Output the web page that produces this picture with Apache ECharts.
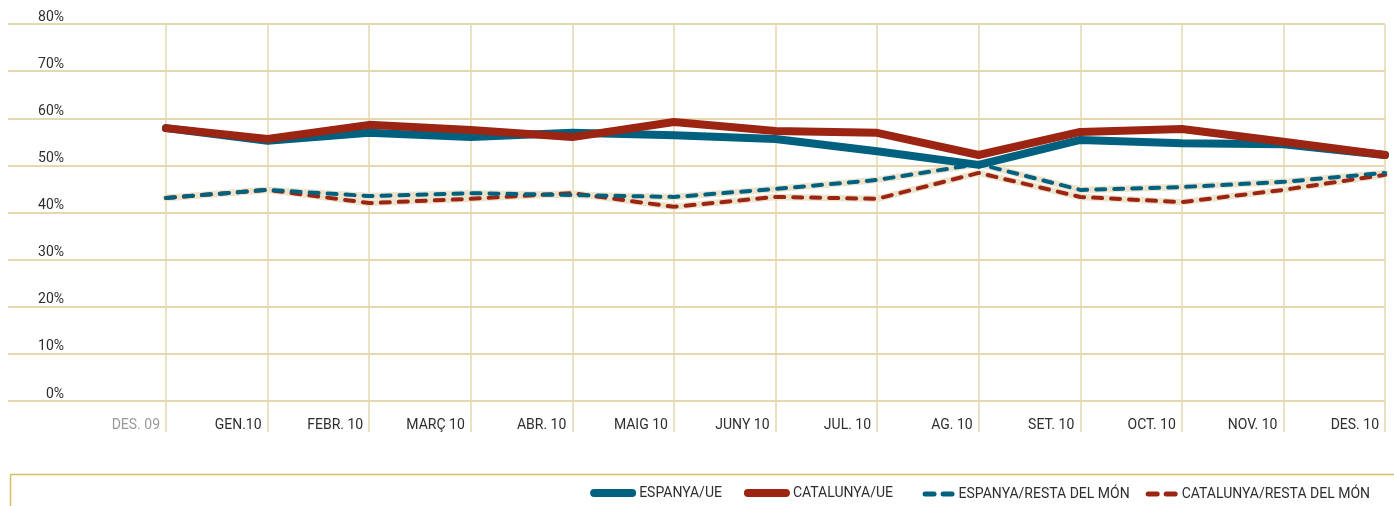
<!DOCTYPE html>
<html>
<head>
<meta charset="utf-8">
<script src="https://cdn.jsdelivr.net/npm/echarts@6/dist/echarts.min.js"></script>
<style>
html,body{margin:0;padding:0;background:#fff;}
#chart{width:1394px;height:506px;}
</style>
</head>
<body>
<div id="chart"></div>
<script>
const categories = ['DES. 09','GEN.10','FEBR. 10','MARÇ 10','ABR. 10','MAIG 10','JUNY 10','JUL. 10','AG. 10','SET. 10','OCT. 10','NOV. 10','DES. 10'];
const espanyaUE = [57.9, 55.2, 56.9, 56.0, 56.9, 56.4, 55.6, 53.0, 50.1, 55.4, 54.7, 54.5, 52.2];
const catalunyaUE = [57.9, 55.6, 58.6, 57.5, 56.0, 59.2, 57.3, 56.9, 52.2, 57.1, 57.7, 55.0, 52.2];
const espanyaRM = [43.1, 44.8, 43.5, 44.1, 43.7, 43.3, 45.0, 46.9, 50.3, 44.8, 45.4, 46.5, 48.4];
const catalunyaRM = [43.1, 44.8, 42.0, 42.9, 44.1, 41.2, 43.3, 42.9, 48.4, 43.3, 42.2, 44.8, 48.0];
const seriesNames = ['ESPANYA/UE','CATALUNYA/UE','ESPANYA/RESTA DEL MÓN','CATALUNYA/RESTA DEL MÓN'];

const BLUE = '#00607f';
const RED = '#9c2412';
const CREAM = '#ebe3cc';
const HGRID = '#dccb95';
const VGRID = '#e4d8b0';
const FONT = 'Roboto, "Liberation Sans", sans-serif';

const chart = echarts.init(document.getElementById('chart'), null, {renderer: 'canvas'});

function dashed(name, data, color) {
  return [{
    name: name + '_bg', type: 'line', xAxisIndex: 1, yAxisIndex: 1, data: data,
    symbol: 'none', silent: true, z: 2,
    lineStyle: {color: CREAM, width: 6.5, cap: 'round', join: 'round'},
    itemStyle: {color: CREAM}
  }, {
    name: name, type: 'line', xAxisIndex: 1, yAxisIndex: 1, data: data,
    symbol: 'none', z: 3, color: color,
    lineStyle: {color: color, width: 4, type: [9, 9], cap: 'round', join: 'round'},
    itemStyle: {color: color}
  }];
}
function solid(name, data, color) {
  return {
    name: name, type: 'line', xAxisIndex: 1, yAxisIndex: 1, data: data,
    symbol: 'none', z: 4, color: color,
    lineStyle: {color: color, width: 8, cap: 'round', join: 'round'},
    itemStyle: {color: color}
  };
}

const pillIcon = 'path://M4,0 L42,0 A4,4 0 0 1 42,8 L4,8 A4,4 0 0 1 4,0 Z';
const dashIcon = 'path://M2.5,0 L11.5,0 A2.5,2.5 0 0 1 11.5,5 L2.5,5 A2.5,2.5 0 0 1 2.5,0 Z M20.5,0 L29.5,0 A2.5,2.5 0 0 1 29.5,5 L20.5,5 A2.5,2.5 0 0 1 20.5,0 Z';

const option = {
  backgroundColor: '#fff',
  animation: false,
  textStyle: {fontFamily: FONT},
  grid: [
    {left: 8, right: 9, top: 24, bottom: 105},
    {left: 166, right: 9, top: 24, bottom: 105}
  ],
  xAxis: [
    {gridIndex: 0, type: 'value', min: 0, max: 1, show: false},
    {
      gridIndex: 1, type: 'category', data: categories, boundaryGap: false,
      axisLine: {show: false},
      axisTick: {show: true, interval: 0, length: 31, lineStyle: {color: VGRID, width: 1.5}},
      splitLine: {show: true, interval: 0, lineStyle: {color: VGRID, width: 1.5}},
      axisLabel: {
        interval: 0, hideOverlap: false, align: 'right', margin: 17,
        padding: [0, 6, 0, 0], fontSize: 14, fontFamily: FONT,
        color: function (v, i) { return i === 0 ? '#9a9a9a' : '#2e2e2e'; }
      }
    }
  ],
  yAxis: [
    {
      gridIndex: 0, type: 'value', min: 0, max: 80, interval: 10,
      axisLine: {show: false}, axisTick: {show: false}, axisLabel: {show: false},
      splitLine: {show: true, lineStyle: {color: HGRID, width: 1.5}}
    },
    {
      gridIndex: 1, type: 'value', min: 0, max: 80, interval: 10,
      axisLine: {show: false}, axisTick: {show: false}, splitLine: {show: false},
      axisLabel: {
        margin: 102, align: 'right', verticalAlign: 'bottom', padding: [0, 0, 0, 0],
        fontSize: 14, fontFamily: FONT, color: '#2e2e2e', formatter: '{value}%'
      }
    }
  ],
  legend: [
    {
      data: [{name: seriesNames[0], icon: pillIcon}, {name: seriesNames[1], icon: pillIcon}],
      right: 496, top: 481, itemWidth: 46, itemHeight: 8, itemGap: 22,
      textStyle: {fontSize: 14, color: '#2e2e2e', fontFamily: FONT, padding: [0, 0, 0, -2]},
      selectedMode: false
    },
    {
      data: [{name: seriesNames[2], icon: dashIcon}, {name: seriesNames[3], icon: dashIcon}],
      right: 19, top: 482, itemWidth: 32, itemHeight: 5, itemGap: 16,
      textStyle: {fontSize: 14, color: '#2e2e2e', fontFamily: FONT, padding: [0, 0, 0, -1]},
      selectedMode: false
    }
  ],
  graphic: [{
    type: 'rect', left: 8, top: 472, silent: true,
    shape: {width: 1400, height: 50},
    style: {fill: 'none', stroke: '#d5bd6a', lineWidth: 1.5}
  }],
  series: [
    ...dashed(seriesNames[3], catalunyaRM, RED),
    ...dashed(seriesNames[2], espanyaRM, BLUE),
    solid(seriesNames[0], espanyaUE, BLUE),
    solid(seriesNames[1], catalunyaUE, RED)
  ]
};
chart.setOption(option);
</script>
</body>
</html>
